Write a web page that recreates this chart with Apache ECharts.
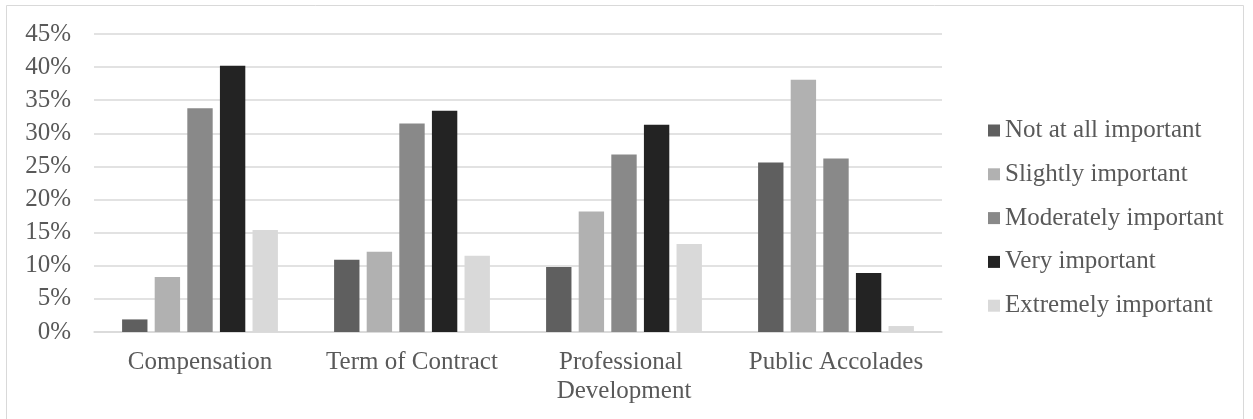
<!DOCTYPE html>
<html>
<head>
<meta charset="utf-8">
<script src="https://cdn.jsdelivr.net/npm/echarts@6/dist/echarts.min.js"></script>
<style>
  html, body { margin: 0; padding: 0; background: #ffffff; }
  #chart { width: 1253px; height: 419px; }
</style>
</head>
<body>
<div id="chart"></div>
<script>
// Survey factors (x-axis categories)
const categories = ['Compensation', 'Term of Contract', 'Professional Development', 'Public Accolades'];

// Share of respondents (%) per importance level
const notAtAll   = [1.9, 10.9, 9.8, 25.6];
const slightly   = [8.3, 12.1, 18.2, 38.1];
const moderately = [33.8, 31.5, 26.8, 26.2];
const very       = [40.2, 33.4, 31.3, 8.9];
const extremely  = [15.4, 11.5, 13.3, 0.9];

const seriesNames = ['Not at all important', 'Slightly important', 'Moderately important', 'Very important', 'Extremely important'];
const seriesValues = [notAtAll, slightly, moderately, very, extremely];
const seriesColors = ['#5f5f5f', '#b1b1b1', '#898989', '#232323', '#d9d9d9'];

// Y-axis ticks
const yMin = 0, yMax = 45, yStep = 5;

const FONT = '"Liberation Serif", "DejaVu Serif", serif';
const TEXT = '#595959';

const chart = echarts.init(document.getElementById('chart'), null, { renderer: 'canvas' });

chart.setOption({
  animation: false,
  backgroundColor: '#ffffff',
  textStyle: { fontFamily: FONT, color: TEXT },
  graphic: [{
    type: 'rect',
    silent: true,
    shape: { x: 6.5, y: 5.5, width: 1237, height: 414 },
    style: { fill: 'none', stroke: '#d9d9d9', lineWidth: 1 }
  }],
  grid: { left: 94, right: 311, top: 34, bottom: 87, containLabel: false },
  legend: {
    orient: 'vertical',
    left: 983,
    top: 113,
    icon: 'rect',
    itemWidth: 12,
    itemHeight: 12,
    itemGap: 18.8,
    data: seriesNames,
    textStyle: { fontFamily: FONT, fontSize: 25, color: TEXT, lineHeight: 25 }
  },
  xAxis: {
    type: 'category',
    data: categories,
    axisTick: { show: false },
    axisLine: { show: true, lineStyle: { color: '#d9d9d9', width: 1.5 } },
    axisLabel: {
      fontFamily: FONT,
      fontSize: 25,
      color: TEXT,
      margin: 16,
      lineHeight: 29,
      width: 205,
      overflow: 'break',
      interval: 0
    }
  },
  yAxis: {
    type: 'value',
    min: yMin,
    max: yMax,
    interval: yStep,
    axisLine: { show: false },
    axisTick: { show: false },
    splitLine: { lineStyle: { color: '#d9d9d9', width: 1.5 } },
    axisLabel: {
      fontFamily: FONT,
      fontSize: 25,
      color: TEXT,
      margin: 23,
      formatter: '{value}%'
    }
  },
  series: seriesNames.map((name, i) => ({
    name: name,
    type: 'bar',
    data: seriesValues[i],
    itemStyle: { color: seriesColors[i] },
    barGap: '28.5%',
    barCategoryGap: '26.5%'
  }))
});
</script>
</body>
</html>
